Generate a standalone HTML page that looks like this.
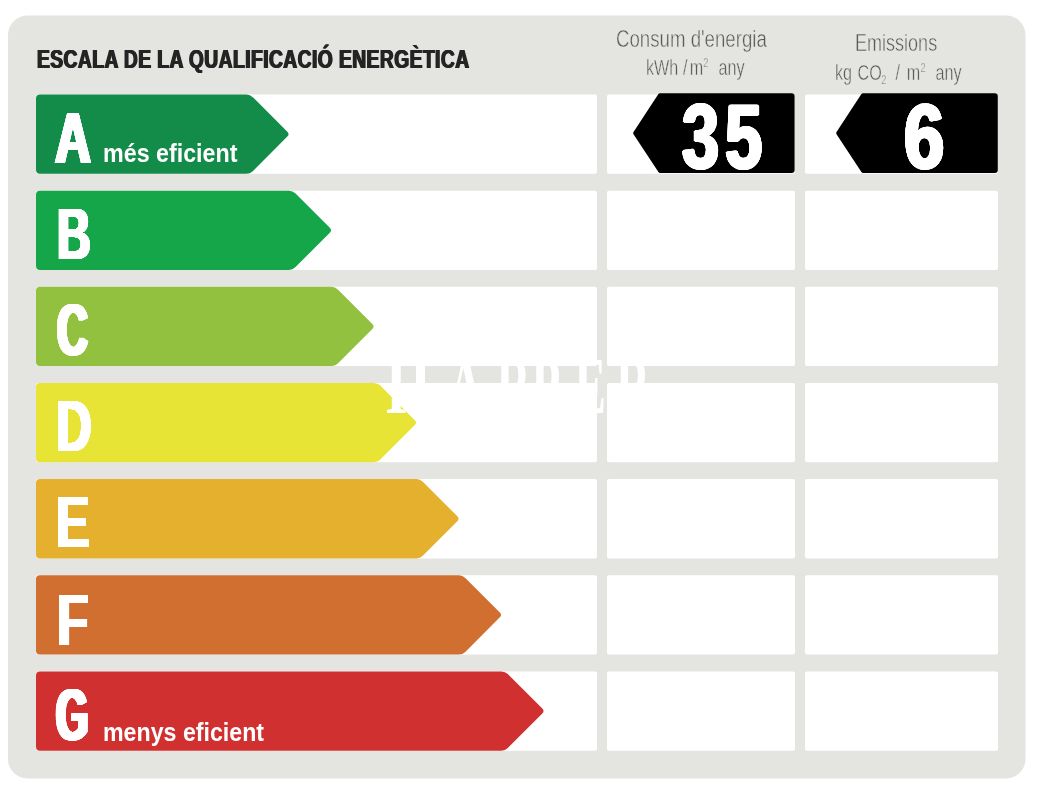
<!DOCTYPE html>
<html lang="ca">
<head>
<meta charset="utf-8">
<title>Escala de la qualificació energètica</title>
<style>
html,body{margin:0;padding:0;background:#fff;}
body{position:relative;width:1037px;height:794px;overflow:hidden;font-family:"Liberation Sans",sans-serif;}
svg{position:absolute;left:0;top:0;display:block;}
.t{position:absolute;margin:0;padding:0;line-height:1;white-space:pre;transform-origin:0 0;font-weight:normal;}
.title{left:36.90px;top:46.00px;font-size:26.7px;transform:scale(0.72,1.0);font-weight:bold;color:#242424;text-shadow:1px 0 #242424,-1px 0 #242424;letter-spacing:0.64px;}
.LA{left:55.40px;top:102.05px;font-size:72px;transform:scale(0.69,1.0);font-weight:bold;text-shadow:2.17px 0.00px 0 #fff,2.01px 0.17px 0 #fff,1.54px 0.32px 0 #fff,0.83px 0.42px 0 #fff,0.00px 0.45px 0 #fff,-0.83px 0.42px 0 #fff,-1.54px 0.32px 0 #fff,-2.01px 0.17px 0 #fff,-2.17px 0.00px 0 #fff,-2.01px -0.17px 0 #fff,-1.54px -0.32px 0 #fff,-0.83px -0.42px 0 #fff,-0.00px -0.45px 0 #fff,0.83px -0.42px 0 #fff,1.54px -0.32px 0 #fff,2.01px -0.17px 0 #fff;}
.LB{left:57.10px;top:198.20px;font-size:72px;transform:scale(0.65,1.0);font-weight:bold;text-shadow:1.92px 0.00px 0 #fff,1.78px 0.17px 0 #fff,1.36px 0.32px 0 #fff,0.74px 0.42px 0 #fff,0.00px 0.45px 0 #fff,-0.74px 0.42px 0 #fff,-1.36px 0.32px 0 #fff,-1.78px 0.17px 0 #fff,-1.92px 0.00px 0 #fff,-1.78px -0.17px 0 #fff,-1.36px -0.32px 0 #fff,-0.74px -0.42px 0 #fff,-0.00px -0.45px 0 #fff,0.74px -0.42px 0 #fff,1.36px -0.32px 0 #fff,1.78px -0.17px 0 #fff;}
.LC{left:56.80px;top:294.35px;font-size:72px;transform:scale(0.59,1.0);font-weight:bold;text-shadow:3.05px 0.00px 0 #fff,2.82px 0.17px 0 #fff,2.16px 0.32px 0 #fff,1.17px 0.42px 0 #fff,0.00px 0.45px 0 #fff,-1.17px 0.42px 0 #fff,-2.16px 0.32px 0 #fff,-2.82px 0.17px 0 #fff,-3.05px 0.00px 0 #fff,-2.82px -0.17px 0 #fff,-2.16px -0.32px 0 #fff,-1.17px -0.42px 0 #fff,-0.00px -0.45px 0 #fff,1.17px -0.42px 0 #fff,2.16px -0.32px 0 #fff,2.82px -0.17px 0 #fff;}
.LD{left:56.00px;top:389.70px;font-size:72px;transform:scale(0.685,1.0);font-weight:bold;text-shadow:1.82px 0.00px 0 #fff,1.69px 0.17px 0 #fff,1.29px 0.32px 0 #fff,0.70px 0.42px 0 #fff,0.00px 0.45px 0 #fff,-0.70px 0.42px 0 #fff,-1.29px 0.32px 0 #fff,-1.69px 0.17px 0 #fff,-1.82px 0.00px 0 #fff,-1.69px -0.17px 0 #fff,-1.29px -0.32px 0 #fff,-0.70px -0.42px 0 #fff,-0.00px -0.45px 0 #fff,0.70px -0.42px 0 #fff,1.29px -0.32px 0 #fff,1.69px -0.17px 0 #fff;}
.LE{left:56.00px;top:485.85px;font-size:72px;transform:scale(0.69,1.0);font-weight:bold;text-shadow:1.81px 0.00px 0 #fff,1.67px 0.17px 0 #fff,1.28px 0.32px 0 #fff,0.69px 0.42px 0 #fff,0.00px 0.45px 0 #fff,-0.69px 0.42px 0 #fff,-1.28px 0.32px 0 #fff,-1.67px 0.17px 0 #fff,-1.81px 0.00px 0 #fff,-1.67px -0.17px 0 #fff,-1.28px -0.32px 0 #fff,-0.69px -0.42px 0 #fff,-0.00px -0.45px 0 #fff,0.69px -0.42px 0 #fff,1.28px -0.32px 0 #fff,1.67px -0.17px 0 #fff;}
.LF{left:56.80px;top:583.60px;font-size:72px;transform:scale(0.71,1.0);font-weight:bold;text-shadow:1.76px 0.00px 0 #fff,1.63px 0.17px 0 #fff,1.24px 0.32px 0 #fff,0.67px 0.42px 0 #fff,0.00px 0.45px 0 #fff,-0.67px 0.42px 0 #fff,-1.24px 0.32px 0 #fff,-1.63px 0.17px 0 #fff,-1.76px 0.00px 0 #fff,-1.63px -0.17px 0 #fff,-1.24px -0.32px 0 #fff,-0.67px -0.42px 0 #fff,-0.00px -0.45px 0 #fff,0.67px -0.42px 0 #fff,1.24px -0.32px 0 #fff,1.63px -0.17px 0 #fff;}
.LG{left:56.20px;top:678.95px;font-size:72px;transform:scale(0.575,1.0);font-weight:bold;text-shadow:3.30px 0.00px 0 #fff,3.05px 0.17px 0 #fff,2.34px 0.32px 0 #fff,1.26px 0.42px 0 #fff,0.00px 0.45px 0 #fff,-1.26px 0.42px 0 #fff,-2.34px 0.32px 0 #fff,-3.05px 0.17px 0 #fff,-3.30px 0.00px 0 #fff,-3.05px -0.17px 0 #fff,-2.34px -0.32px 0 #fff,-1.26px -0.42px 0 #fff,-0.00px -0.45px 0 #fff,1.26px -0.42px 0 #fff,2.34px -0.32px 0 #fff,3.05px -0.17px 0 #fff;}
.LA,.LB,.LC,.LD,.LE,.LF,.LG{color:#fff;}
.mes{left:102.60px;top:139.67px;font-size:26.5px;transform:scale(0.878,1.0);color:#fff;font-weight:bold;}
.menys{left:102.60px;top:718.57px;font-size:26.5px;transform:scale(0.875,1.0);color:#fff;font-weight:bold;}
.h1a{left:616.40px;top:26.83px;font-size:24.3px;transform:scale(0.768,1.0);color:#5a5a58;-webkit-text-stroke:0.45px #e4e5e1;paint-order:fill stroke;}
.h2a{left:855.20px;top:30.93px;font-size:24.3px;transform:scale(0.742,1.0);color:#5a5a58;-webkit-text-stroke:0.45px #e4e5e1;paint-order:fill stroke;}
.u1{left:645.90px;top:57.38px;font-size:22px;transform:scale(0.734,1.0);color:#5a5a58;-webkit-text-stroke:0.45px #e4e5e1;paint-order:fill stroke;width:130px;height:20px;}
.u2{left:835.00px;top:62.18px;font-size:22px;transform:scale(0.734,1.0);color:#5a5a58;-webkit-text-stroke:0.45px #e4e5e1;paint-order:fill stroke;width:160px;height:20px;}
.u1 span,.u2 span,.u1 sup,.u2 sup,.u2 sub{position:absolute;top:0;line-height:1;vertical-align:baseline;}
.n35{left:681.60px;top:92.01px;font-size:90px;transform:scale(0.74,1.0);font-weight:bold;letter-spacing:8.2px;text-shadow:2.16px 0.00px 0 #fff,2.00px 0.27px 0 #fff,1.53px 0.49px 0 #fff,0.83px 0.65px 0 #fff,0.00px 0.70px 0 #fff,-0.83px 0.65px 0 #fff,-1.53px 0.49px 0 #fff,-2.00px 0.27px 0 #fff,-2.16px 0.00px 0 #fff,-2.00px -0.27px 0 #fff,-1.53px -0.49px 0 #fff,-0.83px -0.65px 0 #fff,-0.00px -0.70px 0 #fff,0.83px -0.65px 0 #fff,1.53px -0.49px 0 #fff,2.00px -0.27px 0 #fff;}
.n6{left:904.20px;top:92.01px;font-size:90px;transform:scale(0.805,1.0);font-weight:bold;}
.n35,.n6{color:#fff;text-shadow:1.99px 0.00px 0 #fff,1.84px 0.27px 0 #fff,1.41px 0.49px 0 #fff,0.76px 0.65px 0 #fff,0.00px 0.70px 0 #fff,-0.76px 0.65px 0 #fff,-1.41px 0.49px 0 #fff,-1.84px 0.27px 0 #fff,-1.99px 0.00px 0 #fff,-1.84px -0.27px 0 #fff,-1.41px -0.49px 0 #fff,-0.76px -0.65px 0 #fff,-0.00px -0.70px 0 #fff,0.76px -0.65px 0 #fff,1.41px -0.49px 0 #fff,1.84px -0.27px 0 #fff;}
.wm{left:385.50px;top:345.70px;font-size:80px;transform:scale(0.59,1.0);font-family:"Liberation Serif",serif;font-weight:bold;color:#fff;width:440px;height:80px;}
.wm span{position:absolute;top:0;line-height:1;transform-origin:0 0;}
</style>
</head>
<body>
<svg width="1037" height="794" viewBox="0 0 1037 794">
<rect x="8" y="15.5" width="1017.5" height="763" rx="19.5" fill="#e4e5e1"/>
<rect x="36" y="94.50" width="561" height="79.3" rx="2" fill="#fff"/>
<rect x="607" y="94.50" width="188" height="79.3" rx="2" fill="#fff"/>
<rect x="805" y="94.50" width="193" height="79.3" rx="2" fill="#fff"/>
<path d="M36.00 98.50 A4 4 0 0 1 40.00 94.50 L246.42 94.50 A9 9 0 0 1 252.79 97.14 L287.33 131.68 A3.5 3.5 0 0 1 287.33 136.62 L252.79 171.16 A9 9 0 0 1 246.42 173.80 L40.00 173.80 A4 4 0 0 1 36.00 169.80Z" fill="#138b49"/>
<rect x="36" y="190.65" width="561" height="79.3" rx="2" fill="#fff"/>
<rect x="607" y="190.65" width="188" height="79.3" rx="2" fill="#fff"/>
<rect x="805" y="190.65" width="193" height="79.3" rx="2" fill="#fff"/>
<path d="M36.00 194.65 A4 4 0 0 1 40.00 190.65 L288.92 190.65 A9 9 0 0 1 295.29 193.29 L329.83 227.83 A3.5 3.5 0 0 1 329.83 232.77 L295.29 267.31 A9 9 0 0 1 288.92 269.95 L40.00 269.95 A4 4 0 0 1 36.00 265.95Z" fill="#16a64a"/>
<rect x="36" y="286.80" width="561" height="79.3" rx="2" fill="#fff"/>
<rect x="607" y="286.80" width="188" height="79.3" rx="2" fill="#fff"/>
<rect x="805" y="286.80" width="193" height="79.3" rx="2" fill="#fff"/>
<path d="M36.00 290.80 A4 4 0 0 1 40.00 286.80 L331.42 286.80 A9 9 0 0 1 337.79 289.44 L372.33 323.98 A3.5 3.5 0 0 1 372.33 328.92 L337.79 363.46 A9 9 0 0 1 331.42 366.10 L40.00 366.10 A4 4 0 0 1 36.00 362.10Z" fill="#92c03f"/>
<rect x="36" y="382.95" width="561" height="79.3" rx="2" fill="#fff"/>
<rect x="607" y="382.95" width="188" height="79.3" rx="2" fill="#fff"/>
<rect x="805" y="382.95" width="193" height="79.3" rx="2" fill="#fff"/>
<path d="M36.00 386.95 A4 4 0 0 1 40.00 382.95 L373.92 382.95 A9 9 0 0 1 380.29 385.59 L414.83 420.13 A3.5 3.5 0 0 1 414.83 425.07 L380.29 459.61 A9 9 0 0 1 373.92 462.25 L40.00 462.25 A4 4 0 0 1 36.00 458.25Z" fill="#e7e436"/>
<rect x="36" y="479.10" width="561" height="79.3" rx="2" fill="#fff"/>
<rect x="607" y="479.10" width="188" height="79.3" rx="2" fill="#fff"/>
<rect x="805" y="479.10" width="193" height="79.3" rx="2" fill="#fff"/>
<path d="M36.00 483.10 A4 4 0 0 1 40.00 479.10 L416.42 479.10 A9 9 0 0 1 422.79 481.74 L457.33 516.28 A3.5 3.5 0 0 1 457.33 521.22 L422.79 555.76 A9 9 0 0 1 416.42 558.40 L40.00 558.40 A4 4 0 0 1 36.00 554.40Z" fill="#e5b02e"/>
<rect x="36" y="575.25" width="561" height="79.3" rx="2" fill="#fff"/>
<rect x="607" y="575.25" width="188" height="79.3" rx="2" fill="#fff"/>
<rect x="805" y="575.25" width="193" height="79.3" rx="2" fill="#fff"/>
<path d="M36.00 579.25 A4 4 0 0 1 40.00 575.25 L458.92 575.25 A9 9 0 0 1 465.29 577.89 L499.83 612.43 A3.5 3.5 0 0 1 499.83 617.37 L465.29 651.91 A9 9 0 0 1 458.92 654.55 L40.00 654.55 A4 4 0 0 1 36.00 650.55Z" fill="#d06f2f"/>
<rect x="36" y="671.40" width="561" height="79.3" rx="2" fill="#fff"/>
<rect x="607" y="671.40" width="188" height="79.3" rx="2" fill="#fff"/>
<rect x="805" y="671.40" width="193" height="79.3" rx="2" fill="#fff"/>
<path d="M36.00 675.40 A4 4 0 0 1 40.00 671.40 L501.42 671.40 A9 9 0 0 1 507.79 674.04 L542.33 708.58 A3.5 3.5 0 0 1 542.33 713.52 L507.79 748.06 A9 9 0 0 1 501.42 750.70 L40.00 750.70 A4 4 0 0 1 36.00 746.70Z" fill="#d0302f"/>
<path d="M791.60 93.20 A3 3 0 0 1 794.60 96.20 L794.60 169.90 A3 3 0 0 1 791.60 172.90 L660.08 172.90 A2 2 0 0 1 658.41 172.00 L633.52 134.15 A2 2 0 0 1 633.52 131.95 L658.41 94.10 A2 2 0 0 1 660.08 93.20Z" fill="#000"/>
<path d="M994.80 93.20 A3 3 0 0 1 997.80 96.20 L997.80 169.90 A3 3 0 0 1 994.80 172.90 L863.08 172.90 A2 2 0 0 1 861.41 172.00 L836.52 134.15 A2 2 0 0 1 836.52 131.95 L861.41 94.10 A2 2 0 0 1 863.08 93.20Z" fill="#000"/>
</svg>
<h1 class="t title">ESCALA DE LA QUALIFICACIÓ ENERGÈTICA</h1>
<div class="t LA">A</div>
<div class="t LB">B</div>
<div class="t LC">C</div>
<div class="t LD">D</div>
<div class="t LE">E</div>
<div class="t LF">F</div>
<div class="t LG">G</div>
<div class="t mes">més eficient</div>
<div class="t menys">menys eficient</div>
<div class="t h1a">Consum d'energia</div>
<div class="t h2a">Emissions</div>
<div class="t u1"><span style="left:0.00px;">kWh </span><span style="left:50.41px;">/</span><span style="left:59.54px;">m</span><sup style="left:78.07px;font-size:12.5px;">2</sup> <span style="left:98.77px;">any</span></div>
<div class="t u2"><span style="left:0.00px;">kg </span><span style="left:30.65px;">CO</span><sub style="left:63.08px;top:11.5px;font-size:12.5px;">2</sub> <span style="left:82.43px;">/ </span><span style="left:97.68px;">m</span><sup style="left:116.49px;font-size:12.5px;">2</sup> <span style="left:137.06px;">any</span></div>
<div class="t n35">35</div>
<div class="t n6">6</div>
<div class="t wm"><span style="left:0.0px;transform:scaleX(1.220)">H</span><span style="left:105.9px">A</span><span style="left:187.3px">R</span><span style="left:246.6px">P</span><span style="left:319.5px">E</span><span style="left:389.7px">R</span></div>
</body>
</html>
